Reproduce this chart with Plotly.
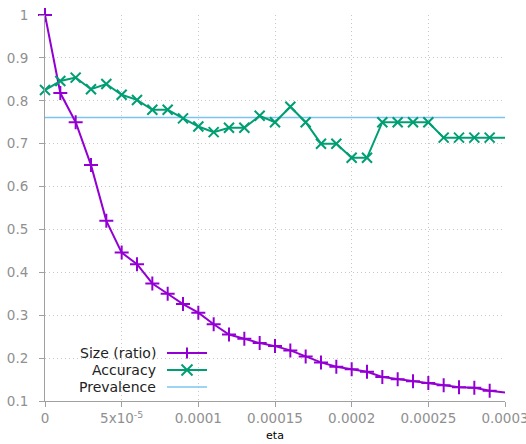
import plotly.graph_objects as go

eta = [i * 1e-5 for i in range(31)]
size_ratio = [1.0, 0.818, 0.75, 0.65, 0.52, 0.446, 0.419, 0.374, 0.35, 0.326,
              0.306, 0.279, 0.255, 0.245, 0.235, 0.228, 0.218, 0.204, 0.19, 0.18,
              0.174, 0.168, 0.156, 0.151, 0.146, 0.142, 0.137, 0.132, 0.131, 0.124, 0.12]
accuracy = [0.825, 0.846, 0.854, 0.827, 0.839, 0.814, 0.802, 0.779, 0.779, 0.759,
            0.74, 0.727, 0.737, 0.737, 0.765, 0.75, 0.786, 0.75, 0.7, 0.7,
            0.667, 0.667, 0.75, 0.75, 0.75, 0.75, 0.714, 0.714, 0.714, 0.714, 0.714]
prevalence = 0.761
x_tickvals = [0, 5e-5, 1e-4, 1.5e-4, 2e-4, 2.5e-4, 3e-4]
x_ticktext = ["0", "5x10<sup>-5</sup>", "0.0001", "0.00015", "0.0002", "0.00025", "0.0003"]
y_tickvals = [0.1, 0.2, 0.3, 0.4, 0.5, 0.6, 0.7, 0.8, 0.9, 1]
y_ticktext = ["0.1", "0.2", "0.3", "0.4", "0.5", "0.6", "0.7", "0.8", "0.9", "1"]
legend_labels = ["Size (ratio)", "Accuracy", "Prevalence"]

PURPLE = "#9400D3"
GREEN = "#009E73"
BLUE = "#7CC4F0"
FONT = "DejaVu Sans"

fig = go.Figure()
fig.add_trace(go.Scatter(x=eta, y=[prevalence] * len(eta), mode="lines",
                         name=legend_labels[2], line=dict(color=BLUE, width=1.5),
                         hoverinfo="skip"))
fig.add_trace(go.Scatter(x=eta, y=size_ratio, mode="lines+markers", name=legend_labels[0],
                         line=dict(color=PURPLE, width=2),
                         marker=dict(symbol="cross-thin", size=10, line=dict(color=PURPLE, width=2)),
                         cliponaxis=False))
fig.add_trace(go.Scatter(x=eta, y=accuracy, mode="lines+markers", name=legend_labels[1],
                         line=dict(color=GREEN, width=2),
                         marker=dict(symbol="x-thin", size=10, line=dict(color=GREEN, width=2)),
                         cliponaxis=False))

# custom gnuplot-style legend (text right, sample on the right)
W, H = 460.0, 386.0
tx = (158 - 45) / W
x0, x1, xm = (167 - 45) / W, (207 - 45) / W, (187 - 45) / W
rows = [(401 - 353) / H, (401 - 370) / H, (401 - 387) / H]
colors = [PURPLE, GREEN, BLUE]
shapes = []
annotations = []
for lab, yy, c in zip(legend_labels, rows, colors):
    annotations.append(dict(x=tx, y=yy, xref="paper", yref="paper", text=lab, showarrow=False,
                            xanchor="right", yanchor="middle",
                            font=dict(family=FONT, size=14, color="#222222")))
    shapes.append(dict(type="line", xref="paper", yref="paper", x0=x0, x1=x1, y0=yy, y1=yy,
                       line=dict(color=c, width=2 if c != BLUE else 1.5)))
# '+' glyph
shapes.append(dict(type="line", xref="paper", yref="paper", x0=xm, x1=xm,
                   y0=rows[0] - 5.5 / H, y1=rows[0] + 5.5 / H, line=dict(color=PURPLE, width=2)))
# 'x' glyph
dx, dy = 5.5 / W, 5.5 / H
shapes.append(dict(type="line", xref="paper", yref="paper", x0=xm - dx, x1=xm + dx,
                   y0=rows[1] - dy, y1=rows[1] + dy, line=dict(color=GREEN, width=2)))
shapes.append(dict(type="line", xref="paper", yref="paper", x0=xm - dx, x1=xm + dx,
                   y0=rows[1] + dy, y1=rows[1] - dy, line=dict(color=GREEN, width=2)))

fig.update_layout(
    width=526, height=444,
    margin=dict(l=45, r=21, t=15, b=43, autoexpand=False),
    paper_bgcolor="white", plot_bgcolor="white",
    showlegend=False, hovermode=False,
    shapes=shapes, annotations=annotations,
    font=dict(family=FONT),
)
fig.update_xaxes(range=[0, 3e-4], tickvals=x_tickvals, ticktext=x_ticktext,
                 showgrid=True, gridcolor="#c8c8c8", griddash="1px,3px", gridwidth=1,
                 showline=True, linecolor="#a0a0a0", linewidth=1,
                 ticks="outside", ticklen=5, tickcolor="#a0a0a0",
                 tickfont=dict(family=FONT, size=13.5, color="#909090"),
                 ticklabeloverflow="allow", showspikes=False,
                 zeroline=False, automargin=False,
                 title=dict(text="eta", font=dict(family=FONT, size=11, color="#000000"), standoff=6))
fig.update_yaxes(range=[0.1, 1], tickvals=y_tickvals, ticktext=y_ticktext,
                 showgrid=True, gridcolor="#c8c8c8", griddash="1px,3px", gridwidth=1,
                 showline=True, linecolor="#a0a0a0", linewidth=1,
                 ticks="outside", ticklen=5, tickcolor="#a0a0a0",
                 tickfont=dict(family=FONT, size=13.5, color="#909090"),
                 ticklabeloverflow="allow", showspikes=False,
                 ticklabelstandoff=8, zeroline=False, automargin=False)

fig.write_html("out.html", config={"displayModeBar": False},
               post_script="document.body.style.margin='0';document.body.style.overflow='hidden';")
